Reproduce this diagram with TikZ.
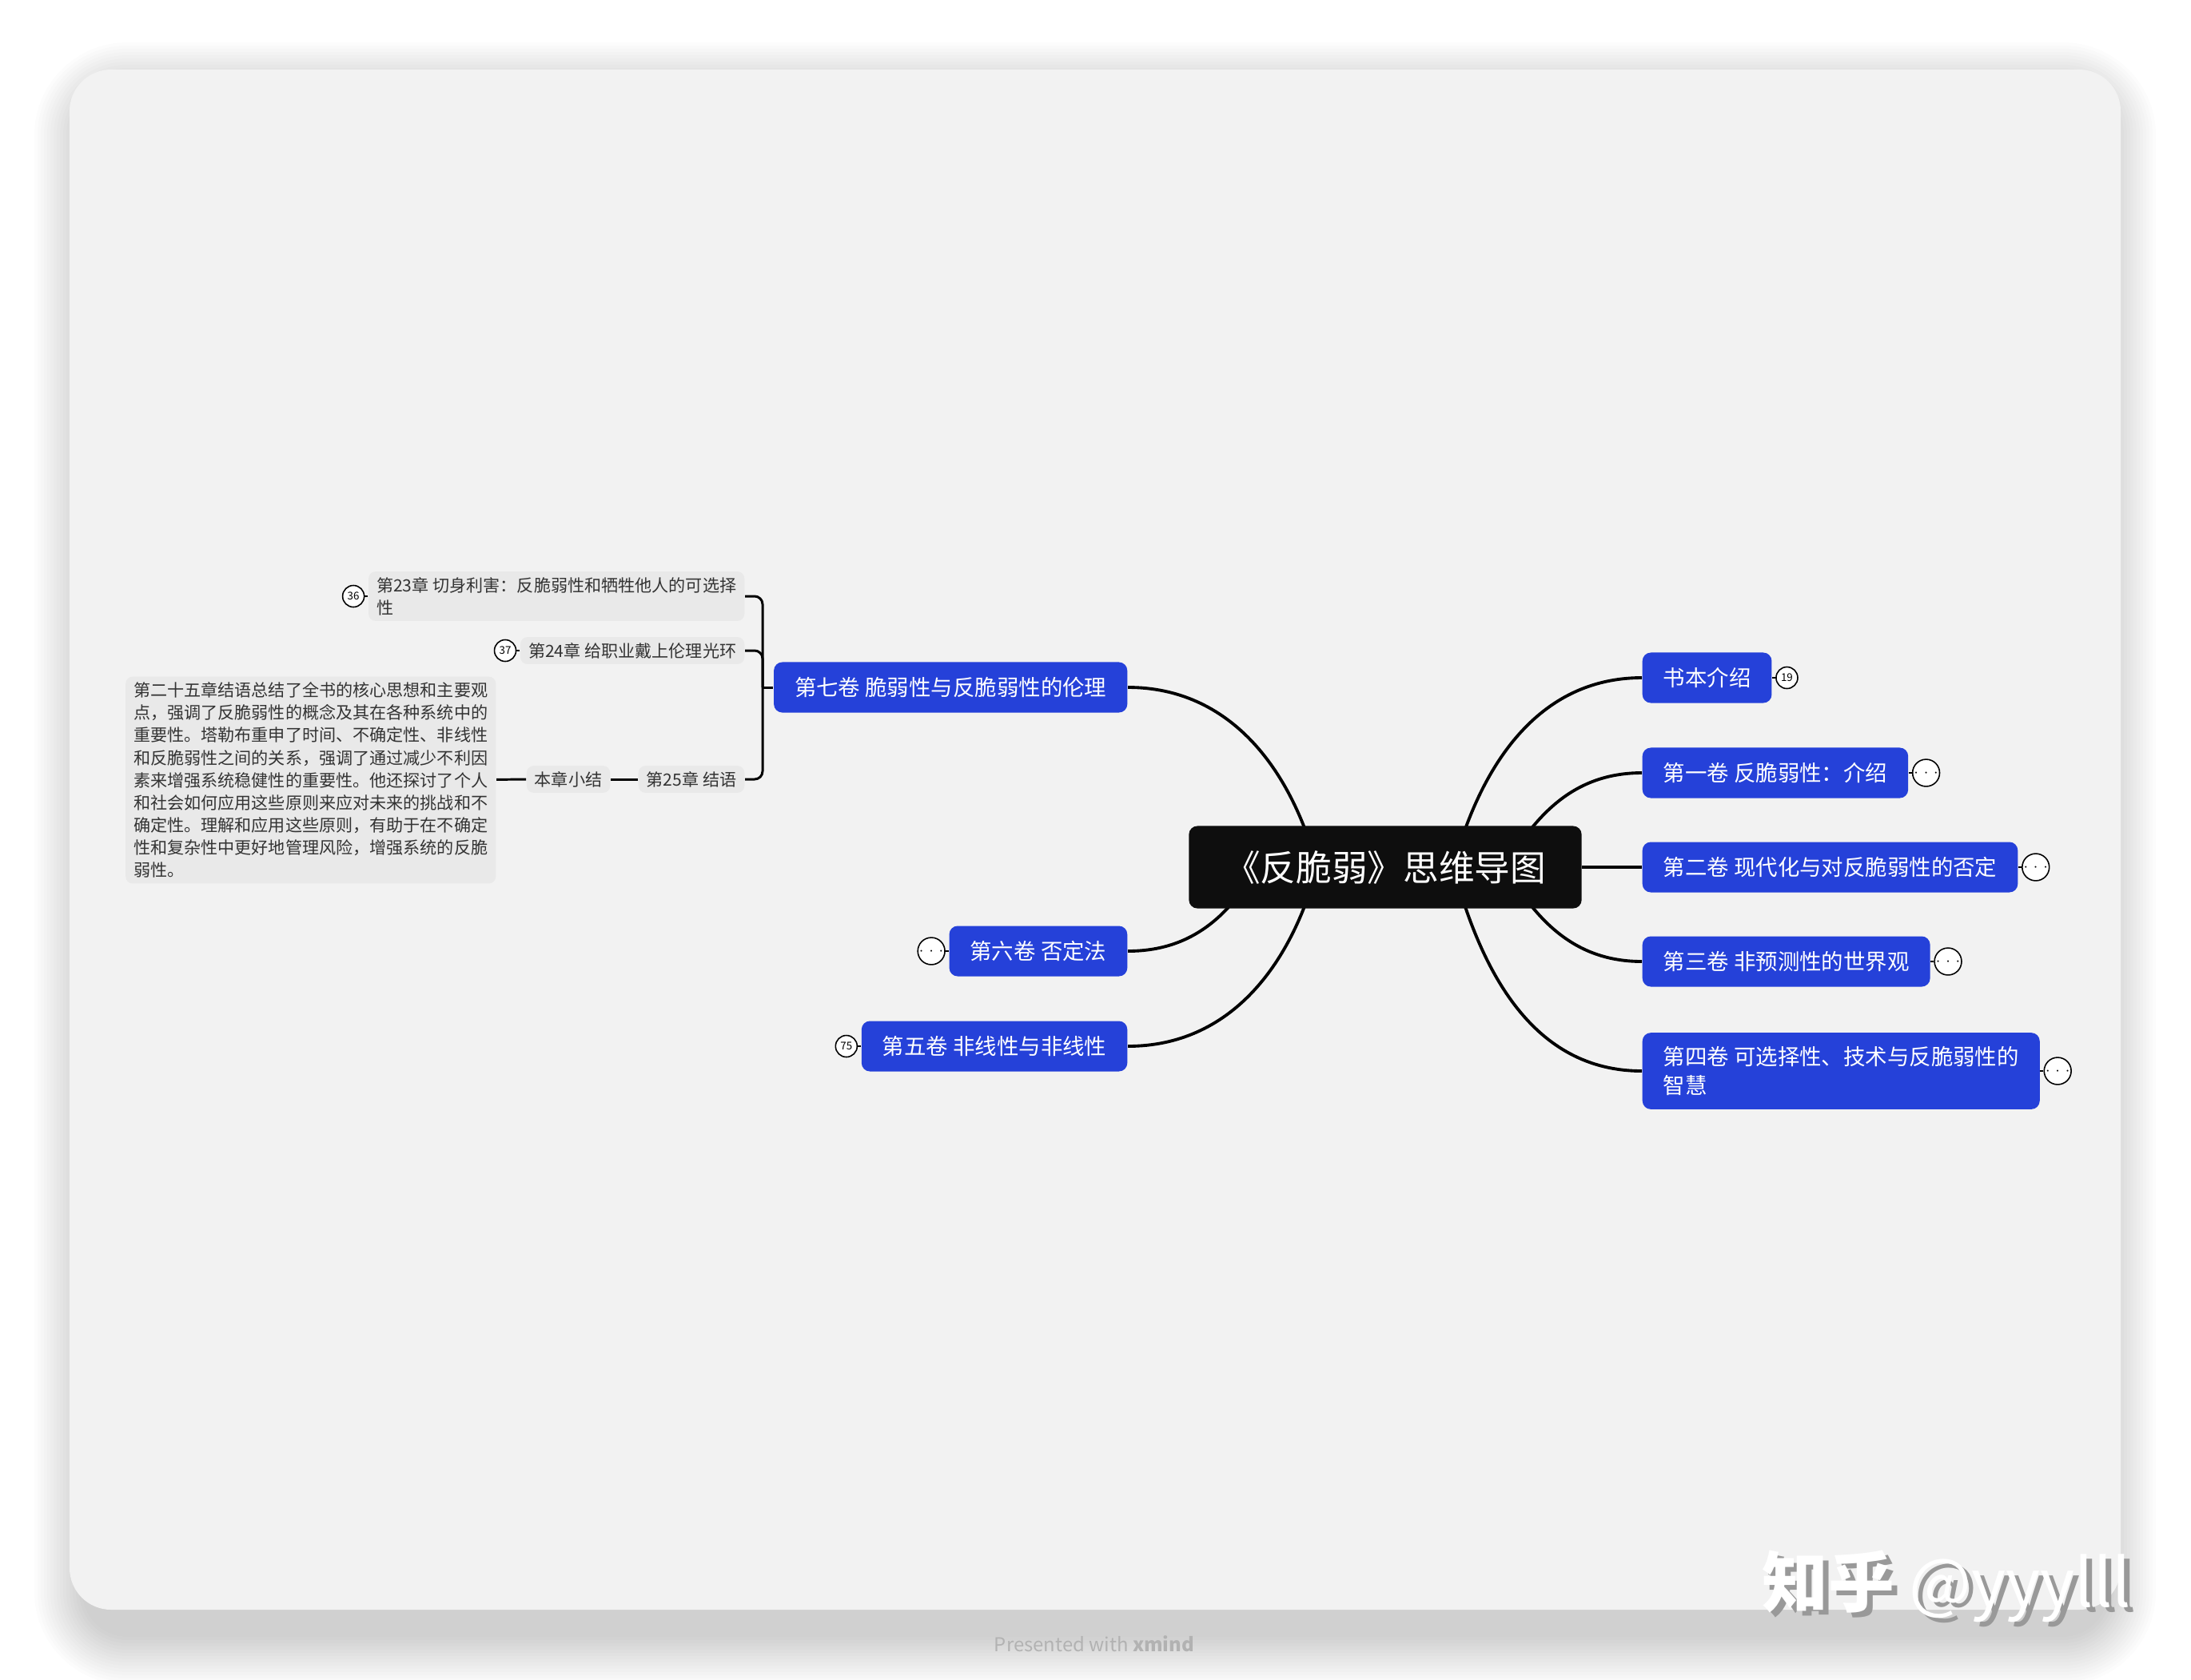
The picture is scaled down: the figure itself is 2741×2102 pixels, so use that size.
\documentclass[tikz,border=0pt]{standalone}
\usepackage{fontspec}
\setmainfont{Noto Sans CJK SC}
\usetikzlibrary{positioning,backgrounds}

\definecolor{cardgray}{HTML}{F2F2F2}
\definecolor{volblue}{HTML}{2541D9}
\definecolor{rootblack}{HTML}{0E0E0E}
\definecolor{chapgray}{HTML}{E9E9E9}
\definecolor{chaptext}{HTML}{333333}

\newcommand{\moredots}{$\cdots$}

\tikzset{
  root/.style={fill=rootblack, text=white, rounded corners=3pt, minimum width=4.91cm, minimum height=1.03cm, font=\fontsize{12.7}{15}\selectfont},
  vol/.style={fill=volblue, text=white, rounded corners=3pt, inner xsep=0.26cm, inner ysep=0.17cm, minimum height=0.63cm, align=left, font=\fontsize{7.8}{10.3}\selectfont},
  chap/.style={fill=chapgray, text=chaptext, rounded corners=2.5pt, inner xsep=0.1cm, inner ysep=0.07cm, align=left, font=\fontsize{6}{8}\selectfont},
  branch/.style={line width=1.1pt},
  sub/.style={line width=0.85pt},
  stub/.style={line width=0.5pt},
  badge/.style={circle, draw, line width=0.45pt, fill=white, inner sep=0pt, minimum size=0.27cm, font=\fontsize{3.8}{4}\selectfont},
  wmtext/.style={anchor=base west, font=\fontsize{23.5}{24}\selectfont},
}

\begin{document}
\begin{tikzpicture}[x=0.01cm, y=-0.01cm]
  \useasboundingbox (0,0) rectangle (2741,2102);

  % centre and main volumes
  \node[root] (root) at (1733,1085) {《反脆弱》思维导图};
  \node[vol, anchor=west] (book) at (2054,848) {书本介绍};
  \node[vol, anchor=west] (vol1) at (2054,967) {第一卷 反脆弱性：介绍};
  \node[vol, anchor=west] (vol2) at (2054,1085) {第二卷 现代化与对反脆弱性的否定};
  \node[vol, anchor=west] (vol3) at (2054,1203) {第三卷 非预测性的世界观};
  \node[vol, anchor=west] (vol4) at (2054,1340) {第四卷 可选择性、技术与反脆弱性的\\智慧};
  \node[vol, anchor=east] (vol7) at (1411,860) {第七卷 脆弱性与反脆弱性的伦理};
  \node[vol, anchor=east] (vol6) at (1411,1190) {第六卷 否定法};
  \node[vol, anchor=east] (vol5) at (1411,1309) {第五卷 非线性与非线性};

  % chapters of vol 7
  \node[chap, anchor=east] (ch23) at (932,746) {第23章 切身利害：反脆弱性和牺牲他人的可选择\\性};
  \node[chap, anchor=east] (ch24) at (932,814) {第24章 给职业戴上伦理光环};
  \node[chap, anchor=east] (ch25) at (932,975) {第25章 结语};
  \node[chap, anchor=east] (summ) at (764,975) {本章小结};
  \node[chap, anchor=east] (note) at (621,976) {第二十五章结语总结了全书的核心思想和主要观\\点，强调了反脆弱性的概念及其在各种系统中的\\重要性。塔勒布重申了时间、不确定性、非线性\\和反脆弱性之间的关系，强调了通过减少不利因\\素来增强系统稳健性的重要性。他还探讨了个人\\和社会如何应用这些原则来应对未来的挑战和不\\确定性。理解和应用这些原则，有助于在不确定\\性和复杂性中更好地管理风险，增强系统的反脆\\弱性。};
  \coordinate (hub) at (954,860);

  % folded markers
  \node[badge, right=0.04cm of book] (bookn) {19};
  \node[badge, right=0.04cm of vol1] (vol1m) {\moredots};
  \node[badge, right=0.04cm of vol2] (vol2m) {\moredots};
  \node[badge, right=0.04cm of vol3] (vol3m) {\moredots};
  \node[badge, right=0.04cm of vol4] (vol4m) {\moredots};
  \node[badge, left=0.04cm of vol6] (vol6m) {\moredots};
  \node[badge, left=0.04cm of vol5] (vol5n) {75};
  \node[badge, left=0.04cm of ch23] (ch23n) {36};
  \node[badge, left=0.04cm of ch24] (ch24n) {37};

  \draw[stub] (book) -- (bookn); \draw[stub] (vol1) -- (vol1m); \draw[stub] (vol2) -- (vol2m); \draw[stub] (vol3) -- (vol3m); \draw[stub] (vol4) -- (vol4m);
  \draw[stub] (vol6) -- (vol6m); \draw[stub] (vol5) -- (vol5n); \draw[stub] (ch23) -- (ch23n); \draw[stub] (ch24) -- (ch24n);

  % chapter bracket
  \draw[sub, rounded corners=0.1cm] (ch23.east) -| (hub) |- (ch25.east);
  \draw[sub, rounded corners=0.1cm] (ch24.east) -| (hub);
  \draw[sub] (hub) -- (vol7.west);
  \draw[sub] (ch25) -- (summ); \draw[sub] (summ) -- (note);

  \begin{scope}[on background layer]
    % soft card shadow
    \foreach \i in {1,...,16}
      \fill[black, opacity=0.012, rounded corners=0.52cm+\i*0.04cm] (107-4*\i,117-4*\i) rectangle (2633+4*\i,2044+4*\i);
    \fill[cardgray, rounded corners=0.52cm] (87,87) rectangle (2653,2014);
    \draw[branch] ([xshift=0.85cm]root.center) to[out=75,in=180] (book.west);
    \draw[branch] ([xshift=1.5cm]root.center) to[out=60,in=180] (vol1.west);
    \draw[branch] (root.east) -- (vol2.west);
    \draw[branch] ([xshift=1.5cm]root.center) to[out=-60,in=180] (vol3.west);
    \draw[branch] ([xshift=0.85cm]root.center) to[out=-75,in=180] (vol4.west);
    \draw[branch] ([xshift=-0.85cm]root.center) to[out=105,in=0] (vol7.east);
    \draw[branch] ([xshift=-1.6cm]root.center) to[out=-120,in=0] (vol6.east);
    \draw[branch] ([xshift=-0.85cm]root.center) to[out=-105,in=0] (vol5.east);
  \end{scope}

  % footer and watermark
  \node[text=black!30, font=\fontsize{6.8}{8}\selectfont] (credit) at (1369,2057) {Presented with \textbf{xmind}};
  \node[wmtext, text=black!40] (wmshade) at (2199,2016) {{\bfseries 知乎} @yyylll};
  \node[wmtext, text=white] (wm) at (2192,2010) {{\bfseries 知乎} @yyylll};
\end{tikzpicture}
\end{document}
